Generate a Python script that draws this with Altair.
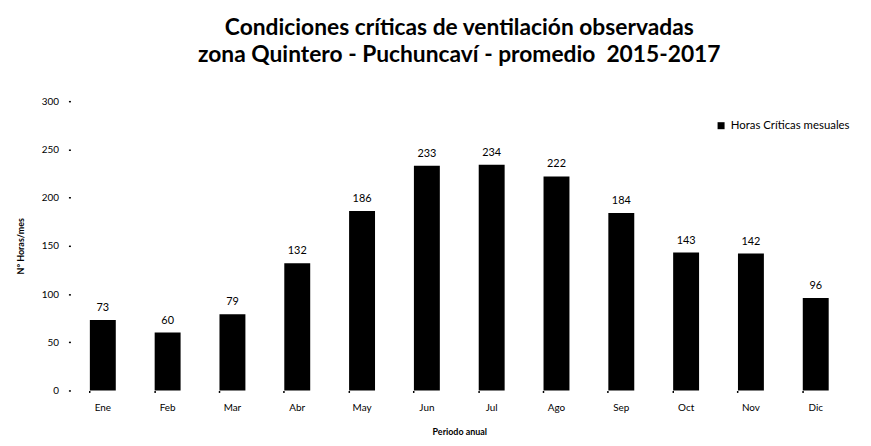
import altair as alt
import pandas as pd

meses = ["Ene", "Feb", "Mar", "Abr", "May", "Jun", "Jul", "Ago", "Sep", "Oct", "Nov", "Dic"]
horas = [73, 60, 79, 132, 186, 233, 234, 222, 184, 143, 142, 96]
serie = "Horas Críticas mesuales"

df = pd.DataFrame({"Mes": meses, "Horas": horas, "Serie": [serie] * len(meses)})

x = alt.X("Mes:N", sort=meses,
          scale=alt.Scale(paddingInner=0.6, paddingOuter=0.3),
          axis=alt.Axis(title="Periodo anual", labelAngle=0, domain=False,
                        tickSize=2, tickWidth=1.5, tickColor="black", bandPosition=0,
                        labelPadding=10, titlePadding=15,
                        labelFont="Lato", labelFontSize=10, labelColor="black",
                        titleFont="Lato", titleFontSize=9, titleFontWeight="bold",
                        titleColor="black"))
y = alt.Y("Horas:Q", scale=alt.Scale(domain=[0, 300]),
          axis=alt.Axis(title="N° Horas/mes", values=[0, 50, 100, 150, 200, 250, 300],
                        domain=False, grid=False, tickSize=2, tickWidth=1.5,
                        tickColor="black", labelPadding=10, titlePadding=16,
                        labelFont="Lato", labelFontSize=10, labelColor="black",
                        titleFont="Lato", titleFontSize=9, titleFontWeight="bold",
                        titleColor="black"))

bars = alt.Chart(df).mark_bar(color="black").encode(
    x=x, y=y,
    color=alt.Color("Serie:N", scale=alt.Scale(range=["black"]),
                    legend=alt.Legend(title=None, orient="none", legendX=651, legendY=19,
                                      symbolType="square", symbolSize=50,
                                      labelFont="Lato", labelFontSize=11.5,
                                      labelColor="black")))

labels = alt.Chart(df).mark_text(dy=-12, font="Lato", fontSize=11, color="black").encode(
    x=alt.X("Mes:N", sort=meses), y="Horas:Q", text="Horas:Q")

chart = (bars + labels).properties(
    width=785, height=292,
    title=alt.TitleParams(
        text=["Condiciones críticas de ventilación observadas",
              "zona Quintero - Puchuncaví - promedio \u00a02015-2017"],
        font="Lato", fontSize=23, fontWeight="bold", color="black",
        anchor="middle", lineHeight=27, offset=30),
    autosize="none",
    padding={"left": 63, "top": 92, "right": 15, "bottom": 54},
).configure_view(stroke=None)

chart.save("out.html", embed_options={"renderer": "svg", "actions": False})
